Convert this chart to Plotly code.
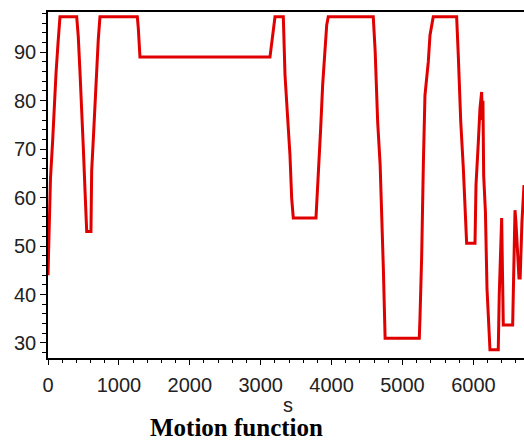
import plotly.graph_objects as go

# Traced motion function (distance s vs value)
s_vals = [0, 0, 18, 35, 66, 85, 113, 141, 169,
          405, 427, 451, 475, 498, 522, 546, 606,
          616, 639, 663, 687, 709, 733,
          1260, 1274, 1297,
          3131, 3150, 3175, 3202,
          3319, 3343, 3378, 3413, 3437, 3460,
          3780, 3790, 3826, 3846, 3874, 3907, 3931, 3953,
          4588, 4615, 4650, 4685, 4710, 4730, 4755,
          5237, 5247, 5271, 5294, 5317, 5364, 5388, 5434,
          5764, 5787, 5822, 5858, 5882, 5905,
          6023, 6037, 6070, 6093, 6117, 6125, 6135, 6145, 6170, 6192, 6234,
          6351, 6365, 6399, 6410, 6422,
          6554, 6587, 6600, 6643, 6660, 6685, 6714]
v_vals = [44, 44, 55.8, 64, 71.8, 79.0, 85.6, 91.8, 97.3,
          97.3, 93.2, 86, 79, 70.4, 61.5, 53, 53,
          65.5, 72, 80, 86.5, 92.6, 97.3,
          97.3, 94.9, 89,
          89, 91, 94.5, 97.3,
          97.3, 85.3, 77, 68.8, 59.9, 55.8,
          55.8, 58.5, 66.7, 74.3, 83.2, 91.4, 95.6, 97.3,
          97.3, 90.1, 75.6, 66.7, 57.1, 45.5, 31.0,
          31.0, 35.2, 48.1, 66.7, 81.1, 88, 93.5, 97.3,
          97.3, 89.4, 75.6, 66.1, 56.4, 50.6,
          50.6, 62.6, 71.5, 78.4, 81.8, 76, 80, 64.6, 57, 41.3, 28.6,
          28.6, 40, 55.8, 45, 33.7,
          33.7, 57.4, 55, 43.4, 43.4, 55, 62.6]

x_tickvals = [0, 1000, 2000, 3000, 4000, 5000, 6000]
x_ticklabels = ["0", "1000", "2000", "3000", "4000", "5000", "6000"]
y_tickvals = [30, 40, 50, 60, 70, 80, 90]
y_ticklabels = ["30", "40", "50", "60", "70", "80", "90"]

sans = "Liberation Sans, Arial, sans-serif"

fig = go.Figure()
fig.add_trace(go.Scatter(x=s_vals, y=v_vals, mode="lines",
                         line=dict(color="rgb(225,0,0)", width=3),
                         showlegend=False, hoverinfo="skip"))

fig.update_layout(
    width=524, height=448,
    margin=dict(l=48, r=0, t=12, b=90, autoexpand=False),
    paper_bgcolor="white", plot_bgcolor="white",
    font=dict(family=sans, size=20, color="#222"),
    xaxis=dict(range=[0, 6714], tickvals=x_tickvals, ticktext=x_ticklabels,
               automargin=False, ticklabelstandoff=3,
               showgrid=False, zeroline=False, showline=True, linecolor="black",
               linewidth=1.5, mirror=True, ticks="outside", ticklen=5,
               tickcolor="black", tickfont=dict(family=sans, size=20, color="#222"),
               minor=dict(dtick=200, ticks="outside", ticklen=3, tickcolor="black",
                          showgrid=False)),
    yaxis=dict(range=[26.9, 98.3], tickvals=y_tickvals, ticktext=y_ticklabels,
               automargin=False,
               showgrid=False, zeroline=False, showline=True, linecolor="black",
               linewidth=1.5, ticks="outside", ticklen=6, tickcolor="black",
               tickfont=dict(family=sans, size=20, color="#222"),
               minor=dict(dtick=2, ticks="outside", ticklen=4, tickcolor="black",
                          showgrid=False)),
    annotations=[
        dict(text="s", xref="paper", yref="paper", x=0.504, y=-0.136,
             showarrow=False, font=dict(family=sans, size=20, color="#222"),
             xanchor="center", yanchor="middle"),
        dict(text="<b>Motion function</b>", xref="paper", yref="paper",
             x=0.397, y=-0.202, showarrow=False,
             font=dict(family="Liberation Serif, Times New Roman, serif", size=25,
                       color="black"),
             xanchor="center", yanchor="middle"),
    ],
)

fig.write_html("out.html",
               config={"displayModeBar": False},
               post_script="document.body.style.margin='0';document.body.style.overflow='hidden';")
